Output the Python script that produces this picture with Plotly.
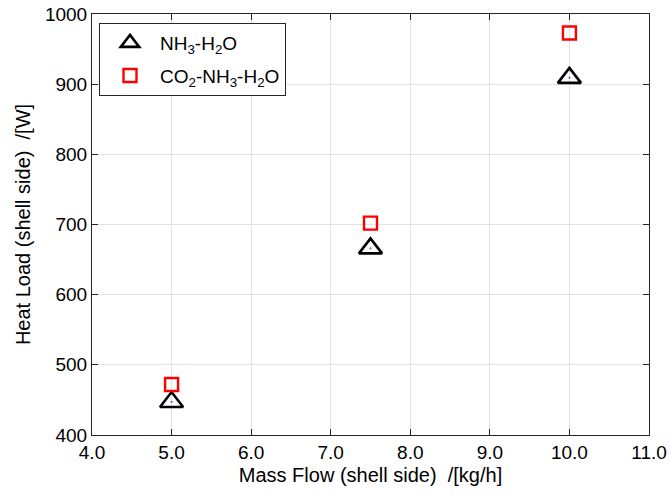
import plotly.graph_objects as go

mass_flow = [5.0, 7.5, 10.0]
nh3_h2o = [447, 666, 909]
co2_nh3_h2o = [472, 702, 973]

x_ticks = [4, 5, 6, 7, 8, 9, 10, 11]
x_tick_text = ["4.0", "5.0", "6.0", "7.0", "8.0", "9.0", "10.0", "11.0"]
y_ticks = [400, 500, 600, 700, 800, 900, 1000]

fig = go.Figure()
fig.add_trace(go.Scatter(
    x=mass_flow, y=nh3_h2o, mode="markers", name="NH<sub>3</sub>-H<sub>2</sub>O",
    legendgroup="a",
    marker=dict(symbol="triangle-up-open", size=20, color="black", line=dict(width=2.6, color="black"))))
fig.add_trace(go.Scatter(
    x=mass_flow, y=co2_nh3_h2o, mode="markers", name="CO<sub>2</sub>-NH<sub>3</sub>-H<sub>2</sub>O",
    legendgroup="b",
    marker=dict(symbol="square-open", size=13, color="red", line=dict(width=2.4, color="red"))))
fig.add_trace(go.Scatter(
    x=mass_flow, y=nh3_h2o, mode="markers", showlegend=False, hoverinfo="skip",
    marker=dict(symbol="circle", size=2, color="#4a4aff")))

axis_common = dict(showgrid=True, gridcolor="#e2e2e2", gridwidth=1, zeroline=False,
                   showline=True, linecolor="#262626", linewidth=1, mirror="ticks",
                   ticks="inside", ticklen=6, tickcolor="#262626", automargin=False,
                   tickfont=dict(size=19, color="black"))

fig.update_xaxes(range=[4, 11], tickvals=x_ticks, ticktext=x_tick_text,
                 title=dict(text="Mass Flow (shell side)\u00a0\u00a0/[kg/h]",
                            font=dict(size=20, color="black"), standoff=6),
                 **axis_common)
fig.update_yaxes(range=[400, 1000], tickvals=y_ticks,
                 title=dict(text="Heat Load (shell side)\u00a0\u00a0/[W]",
                            font=dict(size=20, color="black"), standoff=8),
                 **axis_common)

fig.update_layout(
    width=670, height=498,
    margin=dict(l=92, r=21, t=14, b=63),
    plot_bgcolor="white", paper_bgcolor="white",
    font=dict(family="Liberation Sans, Arial, sans-serif", color="black"),
    legend=dict(x=(99 - 92) / 557, y=1 - (23 - 14) / 421, xanchor="left", yanchor="top",
                bgcolor="white", bordercolor="#262626", borderwidth=1,
                font=dict(size=19, color="black"), itemsizing="trace",
                tracegroupgap=5, itemwidth=50),
    showlegend=True,
)

fig.write_html("out.html")
